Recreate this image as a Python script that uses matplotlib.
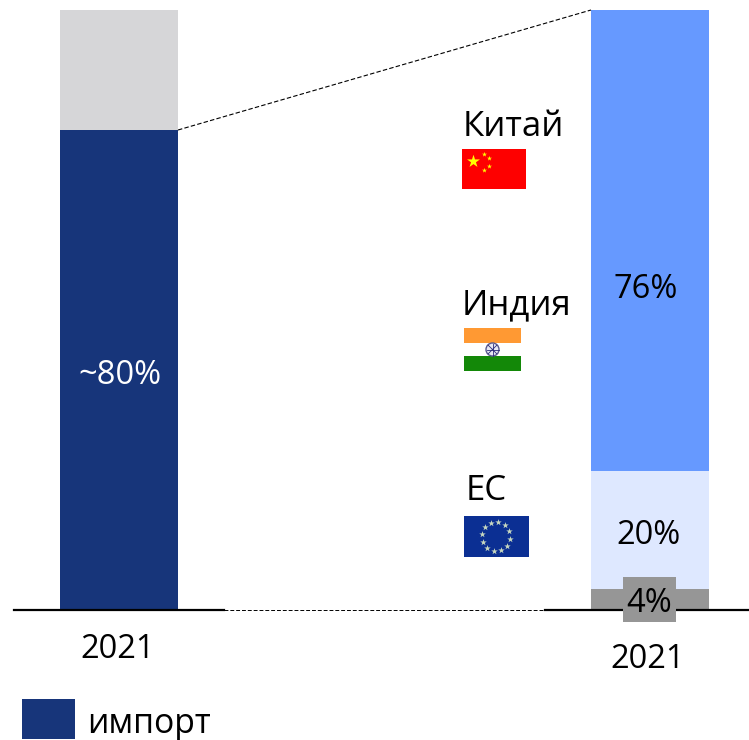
import matplotlib
matplotlib.use('Agg')
import matplotlib.pyplot as plt
import numpy as np
from matplotlib.patches import Rectangle, Circle

plt.rcParams['font.family'] = ['Open Sans', 'DejaVu Sans']

years = ['2021', '2021']
total_parts = [80.0, 20.0]
total_colors = ['#17357a', '#d6d6d8']
total_labels = ['~80%', '']
origin_shares = [3.5, 19.7, 76.8]
origin_colors = ['#969696', '#dee8ff', '#6699ff']
origin_labels = ['4%', '20%', '76%']
origins = ['Китай', 'Индия', 'ЕС']
legend_label = 'импорт'

W, H = 749, 740
FS = 23.5
FS_NAME = 25

fig = plt.figure(figsize=(W / 100, H / 100), dpi=100)
ax = fig.add_axes([0, 0, 1, 1])
ax.set_xlim(0, W)
# 0% sits at pixel row 610, 100% at row 10
ax.set_ylim((610 - H) / 6, 610 / 6)
ax.axis('off')

bottom = 0
for val, col in zip(total_parts, total_colors):
    ax.bar(119, val, width=118, bottom=bottom, color=col, zorder=2)
    bottom += val

bottom = 0
for val, col in zip(origin_shares, origin_colors):
    ax.bar(650, val, width=118, bottom=bottom, color=col, zorder=2)
    bottom += val

# overlay in pixel coordinates for lines, flags and text
dx = fig.add_axes([0, 0, 1, 1])
dx.set_xlim(0, W)
dx.set_ylim(H, 0)
dx.axis('off')
dx.patch.set_alpha(0)

dx.plot([14, 224], [610, 610], color='black', lw=1.6, zorder=3)
dx.plot([545, 749], [610, 610], color='black', lw=1.6, zorder=3)
dx.plot([224, 545], [610, 610], color='black', lw=0.7, ls=(0, (4, 2)), zorder=3)
dx.plot([178, 591], [130, 10], color='black', lw=0.8, ls=(0, (4, 2)), zorder=3)

# bar labels
dx.text(120, 375, total_labels[0], color='white', fontsize=FS, ha='center', va='center')
dx.text(646, 290, origin_labels[2], color='black', fontsize=FS, ha='center', va='center')
dx.text(649, 536, origin_labels[1], color='black', fontsize=FS, ha='center', va='center')
dx.add_patch(Rectangle((623, 577), 53, 45, color=origin_colors[0], lw=0, zorder=4))
dx.text(649, 603, origin_labels[0], color='black', fontsize=FS, ha='center', va='center', zorder=5)

dx.text(118, 650, years[0], fontsize=FS, ha='center', va='center')
dx.text(648, 660, years[1], fontsize=FS, ha='center', va='center')

# country names
dx.text(463, 127, origins[0], fontsize=FS_NAME, ha='left', va='center')
dx.text(462, 305, origins[1], fontsize=FS_NAME, ha='left', va='center')
dx.text(466, 491, origins[2], fontsize=FS_NAME, ha='left', va='center')

# China flag
dx.add_patch(Rectangle((462, 149), 64, 40, color='#fe0000', lw=0))
dx.scatter([473], [161], marker='*', s=95, color='#ffff00', lw=0, zorder=3)
dx.scatter([484, 489, 489, 484], [154, 158, 166, 170], marker='*', s=14, color='#ffff00', lw=0, zorder=3)

# India flag
dx.add_patch(Rectangle((464, 328), 57, 15, color='#ff9933', lw=0))
dx.add_patch(Rectangle((464, 356), 57, 15, color='#138808', lw=0))
dx.add_patch(Circle((492.5, 349.5), 6.5, fc='#e8e8f4', ec='#5a5a90', lw=1, zorder=3))
for a in np.arange(0, np.pi, np.pi / 4):
    dx.plot([492.5 - 6 * np.cos(a), 492.5 + 6 * np.cos(a)],
            [349.5 - 6 * np.sin(a), 349.5 + 6 * np.sin(a)], color='#2b2b7a', lw=0.6, zorder=4)

# EU flag
dx.add_patch(Rectangle((464, 516), 65, 41, color='#0b2f93', lw=0))
angles = np.arange(12) * np.pi / 6 + 0.15
dx.scatter(496 + 14.5 * np.cos(angles), 536.5 + 14.5 * np.sin(angles), marker='*', s=24,
           color='#c8d8c0', lw=0, zorder=3)

# legend
dx.add_patch(Rectangle((22, 699), 53, 40, color=total_colors[0], lw=0))
dx.text(87, 724, legend_label, fontsize=24.3, ha='left', va='center')

fig.savefig('out.png', dpi=100)
